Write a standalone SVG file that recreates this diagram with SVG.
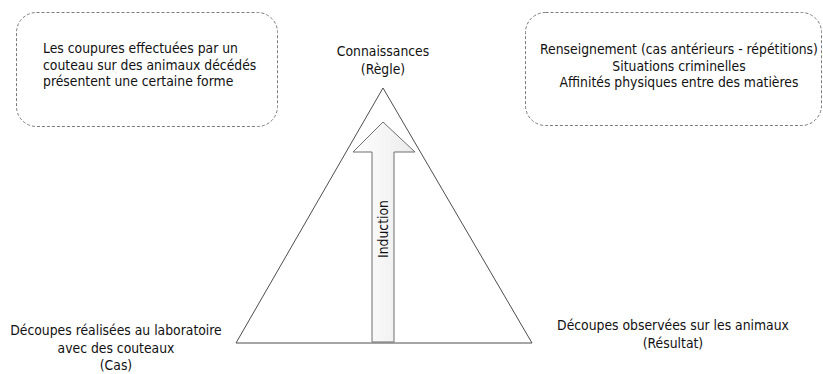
<svg xmlns="http://www.w3.org/2000/svg" width="823" height="374" viewBox="0 0 823 374">
<defs>
<linearGradient id="ag" x1="0" y1="0" x2="1" y2="0">
<stop offset="0" stop-color="#ffffff"/>
<stop offset="1" stop-color="#ebebeb"/>
</linearGradient>
</defs>
<style>
text{font-family:"DejaVu Sans Condensed","DejaVu Sans","Liberation Sans",sans-serif;font-stretch:condensed;font-size:13.8px;fill:#111}
.box{fill:#fff;stroke:#7a7a7a;stroke-width:1;stroke-dasharray:3 2}
.tri{fill:#fff;stroke:#4d4d4d;stroke-width:1}
.arr{fill:url(#ag);stroke:#6e6e6e;stroke-width:1}
.c{text-anchor:middle}
</style>
<rect width="823" height="374" fill="#fff"/>
<g id="triangle">
<polygon class="tri" points="383,88 532,343 236,343"/>
</g>
<g id="connectors">
<polygon class="arr" points="383,122 415,152 394,152 394,342 372,342 372,152 353,152"/>
<text class="c" transform="translate(388,229) rotate(-90)">Induction</text>
</g>
<g id="box-left">
<rect class="box" x="16.5" y="12.5" width="261" height="114" rx="20"/>
<text x="43" y="53">Les coupures effectuées par un</text>
<text x="43" y="69.5">couteau sur des animaux décédés</text>
<text x="43" y="86">présentent une certaine forme</text>
</g>
<g id="box-right">
<rect class="box" x="525.5" y="12.5" width="296" height="113" rx="20"/>
<text class="c" x="679" y="54">Renseignement (cas antérieurs - répétitions)</text>
<text class="c" x="679" y="70.5">Situations criminelles</text>
<text class="c" x="679" y="87">Affinités physiques entre des matières</text>
</g>
<g id="top-label">
<text class="c" x="383" y="56">Connaissances</text>
<text class="c" x="383" y="74">(Règle)</text>
</g>
<g id="bottom-left-label">
<text class="c" x="116" y="335">Découpes réalisées au laboratoire</text>
<text class="c" x="116" y="352.5">avec des couteaux</text>
<text class="c" x="116" y="370">(Cas)</text>
</g>
<g id="bottom-right-label">
<text class="c" x="673" y="330">Découpes observées sur les animaux</text>
<text class="c" x="673" y="347.5">(Résultat)</text>
</g>
</svg>
